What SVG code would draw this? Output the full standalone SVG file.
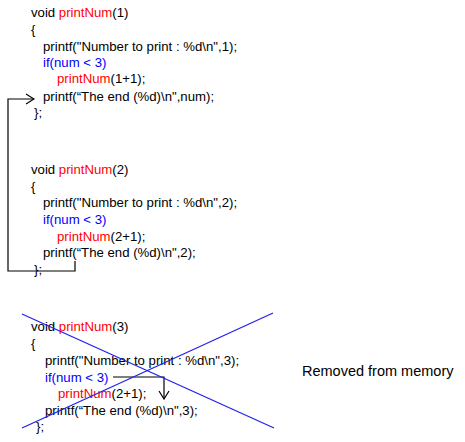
<svg xmlns="http://www.w3.org/2000/svg" width="465" height="442" viewBox="0 0 465 442">
<defs>
<style>
text{font-family:"Liberation Sans",Arial,sans-serif;font-size:13.2px;fill:#000}
.r{fill:#ff0000}
.b{fill:#0000ff}
.note{font-size:14.5px}
.conn{fill:none;stroke:#000;stroke-width:1.2}
.cross{stroke:#2222ee;stroke-width:1.3}
</style>
<marker id="ah" viewBox="0 0 10 12" refX="9" refY="6" markerWidth="10" markerHeight="12" markerUnits="userSpaceOnUse" orient="auto">
<path d="M1 1 L9 6 L1 11" fill="none" stroke="#000" stroke-width="1.2"/>
</marker>
</defs>
<rect width="465" height="442" fill="#fff"/>
<g id="block1">
<text x="31" y="17">void <tspan class="r">printNum</tspan>(1)</text>
<text x="31" y="34">{</text>
<text x="43" y="51">printf("Number to print : %d\n",1);</text>
<text x="43" y="67" class="b">if(num &lt; 3)</text>
<text x="57" y="83"><tspan class="r">printNum</tspan>(1+1);</text>
<text x="43" y="101">printf(“The end (%d)\n",num);</text>
<text x="34" y="117">};</text>
</g>
<g id="block2">
<text x="31" y="174">void <tspan class="r">printNum</tspan>(2)</text>
<text x="31" y="191">{</text>
<text x="43" y="207">printf("Number to print : %d\n",2);</text>
<text x="43" y="224" class="b">if(num &lt; 3)</text>
<text x="57" y="241"><tspan class="r">printNum</tspan>(2+1);</text>
<text x="43" y="257">printf(“The end (%d)\n",2);</text>
<text x="34" y="274">};</text>
</g>
<g id="block3">
<text x="31" y="331">void <tspan class="r">printNum</tspan>(3)</text>
<text x="31" y="348">{</text>
<text x="45" y="365">printf("Number to print : %d\n",3);</text>
<text x="45" y="382" class="b">if(num &lt; 3)</text>
<text x="58" y="398"><tspan class="r">printNum</tspan>(2+1);</text>
<text x="45" y="415">printf(“The end (%d)\n",3);</text>
<text x="36" y="431">};</text>
</g>
<g id="note">
<text x="302" y="376" class="note">Removed from memory</text>
</g>
<g id="connectors">
<path class="conn" d="M75 261 V271 H8 V99 H34" marker-end="url(#ah)"/>
<path class="conn" d="M113 377 H164 V399" marker-end="url(#ah)"/>
<line class="cross" x1="22" y1="314" x2="274" y2="428"/>
<line class="cross" x1="22" y1="428" x2="273" y2="313"/>
</g>
</svg>
